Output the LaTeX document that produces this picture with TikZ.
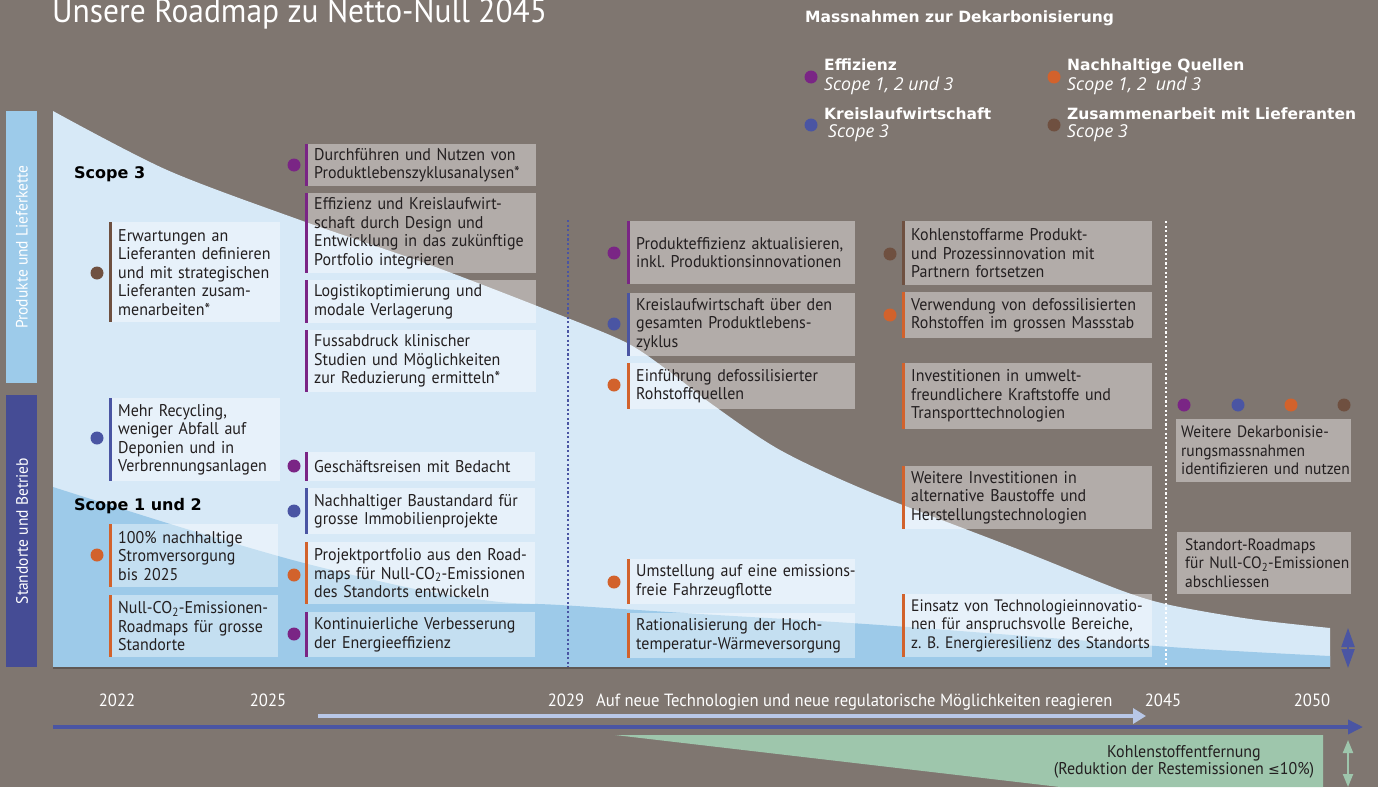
\documentclass[tikz,border=0pt]{standalone}
\usepackage{fontspec}
\setmainfont{PT Sans}[FakeStretch=0.94]
\newfontfamily\legf{DejaVu Sans}
\newfontfamily\itf{Open Sans}
\newfontfamily\symf{DejaVu Sans}
\usetikzlibrary{arrows.meta}
\definecolor{bg}{HTML}{7F7670}
\definecolor{lightb}{HTML}{D7E9F7}
\definecolor{midb}{HTML}{9DCAE9}
\definecolor{sidetop}{HTML}{9DCBEA}
\definecolor{sidebot}{HTML}{454C95}
\definecolor{cpurple}{HTML}{7A2585}
\definecolor{cblue}{HTML}{4A55A3}
\definecolor{corange}{HTML}{D2622C}
\definecolor{cbrown}{HTML}{6F5040}
\definecolor{txt}{HTML}{231F20}
\definecolor{cgreen}{HTML}{9EC6AC}
\definecolor{larrow}{HTML}{B8C7E7}
\newcommand{\boxfont}{\fontsize{17}{18.5}\selectfont}
\newcommand{\cotwo}{CO\textsubscript{2}}
\newcommand{\bxl}[1]{\mbox{#1}}
\frenchspacing
\tikzset{
  box/.style={rectangle, fill=white, fill opacity=0.4, text opacity=1, anchor=north west,
    inner xsep=9pt, inner ysep=0pt, align=left, font=\boxfont, text=txt},
  dot/.style={circle, fill=#1, minimum size=13pt, inner sep=0pt},
  lbl/.style={anchor=base west, inner sep=0pt},
  year/.style={anchor=base, inner sep=0pt, text=white, font=\fontsize{17.7}{20}\selectfont},
  legb/.style={lbl, text=white, font=\legf\bfseries\fontsize{15.5}{18}\selectfont},
  legi/.style={lbl, text=white, font=\itf\itshape\fontsize{17.8}{20}\selectfont},
  scopel/.style={lbl, text=black, font=\legf\bfseries\fontsize{16}{18}\selectfont},
}
\begin{document}
\begin{tikzpicture}[x=1pt,y=-1pt]
\useasboundingbox (0,0) rectangle (1378,787);
\fill[bg] (0,0) rectangle (1378,787);
% title
\node[lbl, text=white, font=\fontsize{33.5}{34}\selectfont] (title) at (52,23) {Unsere Roadmap zu Netto-Null 2045};
% legend
\node[legb] (legt) at (805,23) {Massnahmen zur Dekarbonisierung};
\node[dot=cpurple] (lg1) at (811,77) {};
\node[dot=cblue] (lg2) at (811,125) {};
\node[dot=corange] (lg3) at (1054,77) {};
\node[dot=cbrown] (lg4) at (1054,125) {};
\node[legb] (l1a) at (824,70) {Effizienz};
\node[legi] (l1b) at (824,90) {Scope 1, 2 und 3};
\node[legb] (l2a) at (824,119) {Kreislaufwirtschaft};
\node[legi] (l2b) at (828,137) {Scope 3};
\node[legb] (l3a) at (1067,70) {Nachhaltige Quellen};
\node[legi] (l3b) at (1067,90) {Scope 1, 2\ \ und 3};
\node[legb] (l4a) at (1067,119) {Zusammenarbeit mit Lieferanten};
\node[legi] (l4b) at (1067,137) {Scope 3};
% side bars
\fill[sidetop] (6,111) rectangle (37,383);
\fill[sidebot] (6,395) rectangle (37,667);
\node[rotate=90, text=white, font=\fontsize{16.5}{17}\selectfont] (side1) at (22,247) {Produkte und Lieferkette};
\node[rotate=90, text=white, font=\fontsize{16.5}{17}\selectfont] (side2) at (22,531) {Standorte und Betrieb};
% areas
\fill[lightb] plot[smooth, tension=0.5] coordinates {(53,111) (167,170) (300,220) (430,265) (560,315) (627,343) (670,372) (713,405) (780,450) (870,492) (1020,550) (1120,590) (1170,605) (1250,619) (1330,628)} -- (1330,667) -- (53,667) -- cycle;
\fill[midb] plot[smooth, tension=0.5] coordinates {(53,487) (180,527) (300,562) (420,590) (500,602) (560,605) (700,614) (880,625) (1170,647) (1330,656)} -- (1330,667) -- (53,667) -- cycle;
\fill[black!25!bg] (53,667) rectangle (1330,669);
% dotted verticals
\coordinate (v1t) at (568,220); \coordinate (v1b) at (568,667);
\coordinate (v2t) at (1166,221); \coordinate (v2b) at (1166,667);
\draw[cblue, line width=2.2pt, dash pattern=on 2.2pt off 2.4pt] (v1t) -- (v1b);
\draw[white, line width=2.2pt, dash pattern=on 2.2pt off 2.4pt] (v2t) -- (v2b);
% scope labels
\node[scopel] (sc3) at (74,178) {Scope 3};
\node[scopel] (sc12) at (74,510) {Scope 1 und 2};
% column 1
\node[box, text width=153pt, minimum height=100pt] (b1) at (109,222) {Erwartungen an\\Lieferanten definieren\\und mit strategischen\\Lieferanten zusam-\\menarbeiten*};
\node[box, text width=153pt, minimum height=83pt] (b2) at (109,398) {Mehr Recycling,\\weniger Abfall auf\\Deponien und in\\\bxl{Verbrennungsanlagen}};
\node[box, text width=151pt, minimum height=63pt] (b3) at (109,524) {100\% nachhaltige\\Stromversorgung\\bis 2025};
\node[box, text width=151pt, minimum height=62pt] (b4) at (109,595) {\bxl{Null-\cotwo-Emissionen-}\\\bxl{Roadmaps für grosse}\\Standorte};
% column 2
\node[box, text width=213pt, minimum height=42pt] (c1) at (305,144) {Durchführen und Nutzen von\\Produktlebenszyklusanalysen*};
\node[box, text width=213pt, minimum height=80pt] (c2) at (305,193) {Effizienz und Kreislaufwirt-\\schaft durch Design und\\\bxl{Entwicklung in das zukünftige}\\Portfolio integrieren};
\node[box, text width=213pt, minimum height=43pt] (c3) at (305,280) {Logistikoptimierung und\\modale Verlagerung};
\node[box, text width=213pt, minimum height=62pt] (c4) at (305,330) {Fussabdruck klinischer\\Studien und Möglichkeiten\\\bxl{zur Reduzierung ermitteln*}};
\node[box, text width=212pt, minimum height=29pt] (c5) at (305,452) {Geschäftsreisen mit Bedacht};
\node[box, text width=212pt, minimum height=46pt] (c6) at (305,488) {\bxl{Nachhaltiger Baustandard für}\\grosse Immobilienprojekte};
\node[box, text width=212pt, minimum height=62pt] (c7) at (305,542) {\bxl{Projektportfolio aus den Road-}\\\bxl{maps für Null-\cotwo-Emissionen}\\\bxl{des Standorts entwickeln}};
\node[box, text width=212pt, minimum height=45pt] (c8) at (305,612) {\bxl{Kontinuierliche Verbesserung}\\der Energieeffizienz};
% column 3
\node[box, text width=210pt, minimum height=63pt] (d1) at (627,221) {\bxl{Produkteffizienz aktualisieren,}\\\bxl{inkl. Produktionsinnovationen}};
\node[box, text width=210pt, minimum height=63pt] (d2) at (627,293) {\bxl{Kreislaufwirtschaft über den}\\gesamten Produktlebens-\\zyklus};
\node[box, text width=210pt, minimum height=46pt] (d3) at (627,363) {\bxl{Einführung defossilisierter}\\Rohstoffquellen};
\node[box, text width=210pt, minimum height=45pt] (d4) at (627,559) {\bxl{Umstellung auf eine emissions-}\\\bxl{freie Fahrzeugflotte}};
\node[box, text width=210pt, minimum height=45pt] (d5) at (627,613) {\bxl{Rationalisierung der Hoch-}\\\bxl{temperatur-Wärmeversorgung}};
% column 4
\node[box, text width=232pt, minimum height=64pt] (e1) at (902,221) {Kohlenstoffarme Produkt-\\und Prozessinnovation mit\\Partnern fortsetzen};
\node[box, text width=232pt, minimum height=46pt] (e2) at (902,292) {\bxl{Verwendung von defossilisierten}\\\bxl{Rohstoffen im grossen Massstab}};
\node[box, text width=232pt, minimum height=66pt] (e3) at (902,363) {Investitionen in umwelt-\\\bxl{freundlichere Kraftstoffe und}\\Transporttechnologien};
\node[box, text width=232pt, minimum height=63pt] (e4) at (902,466) {Weitere Investitionen in\\alternative Baustoffe und\\Herstellungstechnologien};
\node[box, text width=232pt, minimum height=63pt, font=\fontsize{16.6}{18.5}\selectfont] (e5) at (902,594) {\bxl{Einsatz von Technologieinnovatio-}\\\bxl{nen für anspruchsvolle Bereiche,}\\\bxl{z. B. Energieresilienz des Standorts}};
% column 5
\node[box, inner xsep=5pt, text width=165pt, minimum height=63pt, font=\fontsize{16.5}{18.5}\selectfont] (f1) at (1176,419) {\bxl{Weitere Dekarbonisie-}\\\bxl{rungsmassnahmen}\\\bxl{identifizieren und nutzen}};
\node[box, inner xsep=8pt, text width=158pt, minimum height=62pt, font=\fontsize{16.5}{18.5}\selectfont] (f2) at (1177,532) {\bxl{Standort-Roadmaps}\\\bxl{für Null-\cotwo-Emissionen}\\\bxl{abschliessen}};
% bars
\foreach \n/\c in {b1/cbrown, b2/cblue, b3/corange, b4/corange,
  c1/cpurple, c2/cpurple, c3/cpurple, c4/cpurple, c5/cpurple, c6/cblue, c7/corange, c8/cpurple,
  d1/cpurple, d2/cblue, d3/corange, d4/corange, d5/corange,
  e1/cbrown, e2/corange, e3/corange, e4/corange, e5/corange}
  \fill[\c] (\n.north west) rectangle ([xshift=3pt]\n.south west);
% dots
\node[dot=cbrown] (db1) at (97,273) {};
\node[dot=cblue] (db2) at (97,438) {};
\node[dot=corange] (db3) at (97,555) {};
\node[dot=cpurple] (dc1) at (294,165) {};
\node[dot=cpurple] (dc5) at (294,466) {};
\node[dot=cblue] (dc6) at (294,511) {};
\node[dot=corange] (dc7) at (294,575) {};
\node[dot=cpurple] (dc8) at (294,634) {};
\node[dot=cpurple] (dd1) at (614,253) {};
\node[dot=cblue] (dd2) at (614,324) {};
\node[dot=corange] (dd3) at (614,385) {};
\node[dot=corange] (dd4) at (614,582) {};
\node[dot=cbrown] (de1) at (890,254) {};
\node[dot=corange] (de2) at (890,315) {};
\node[dot=cpurple] (df1) at (1184,405) {};
\node[dot=cblue] (df2) at (1238,405) {};
\node[dot=corange] (df3) at (1291,405) {};
\node[dot=cbrown] (df4) at (1344,405) {};
% right double arrow
\coordinate (ra1) at (1348,628); \coordinate (ra2) at (1348,668);
\draw[cblue, line width=2pt, {Triangle[width=13pt,length=19pt]}-{Triangle[width=13pt,length=19pt]}] (ra1) -- (ra2);
% timeline
\node[year] (y1) at (117,706) {2022};
\node[year] (y2) at (268,706) {2025};
\node[year] (y3) at (566,706) {2029};
\node[year, anchor=base west] (y4) at (596,706) {Auf neue Technologien und neue regulatorische Möglichkeiten reagieren};
\node[year] (y5) at (1163,706) {2045};
\node[year] (y6) at (1312,706) {2050};
\coordinate (la1) at (318,716); \coordinate (la2) at (1146,716);
\draw[larrow, line width=4.5pt, -{Triangle[width=15pt,length=13pt]}] (la1) -- (la2);
\coordinate (ax1) at (53,727); \coordinate (ax2) at (1363,727);
\draw[cblue, line width=3.5pt, -{Triangle[width=14pt,length=15pt]}] (ax1) -- (ax2);
% carbon removal
\fill[cgreen] (615,735) -- (1323,735) -- (1323,787) -- (1060,787) -- cycle;
\node[anchor=base, inner sep=0pt, text=txt, font=\fontsize{17}{18}\selectfont] (cr1) at (1184,757) {Kohlenstoffentfernung};
\node[anchor=base, inner sep=0pt, text=txt, font=\fontsize{17}{18}\selectfont] (cr2) at (1184,774) {(Reduktion der Restemissionen {\symf\fontsize{14}{15}\selectfont ≤}10\%)};
\coordinate (ga1) at (1348,740); \coordinate (ga2) at (1348,787);
\draw[cgreen, line width=2pt, {Triangle[width=10pt,length=13pt]}-{Triangle[width=10pt,length=13pt]}] (ga1) -- (ga2);
\end{tikzpicture}
\end{document}
